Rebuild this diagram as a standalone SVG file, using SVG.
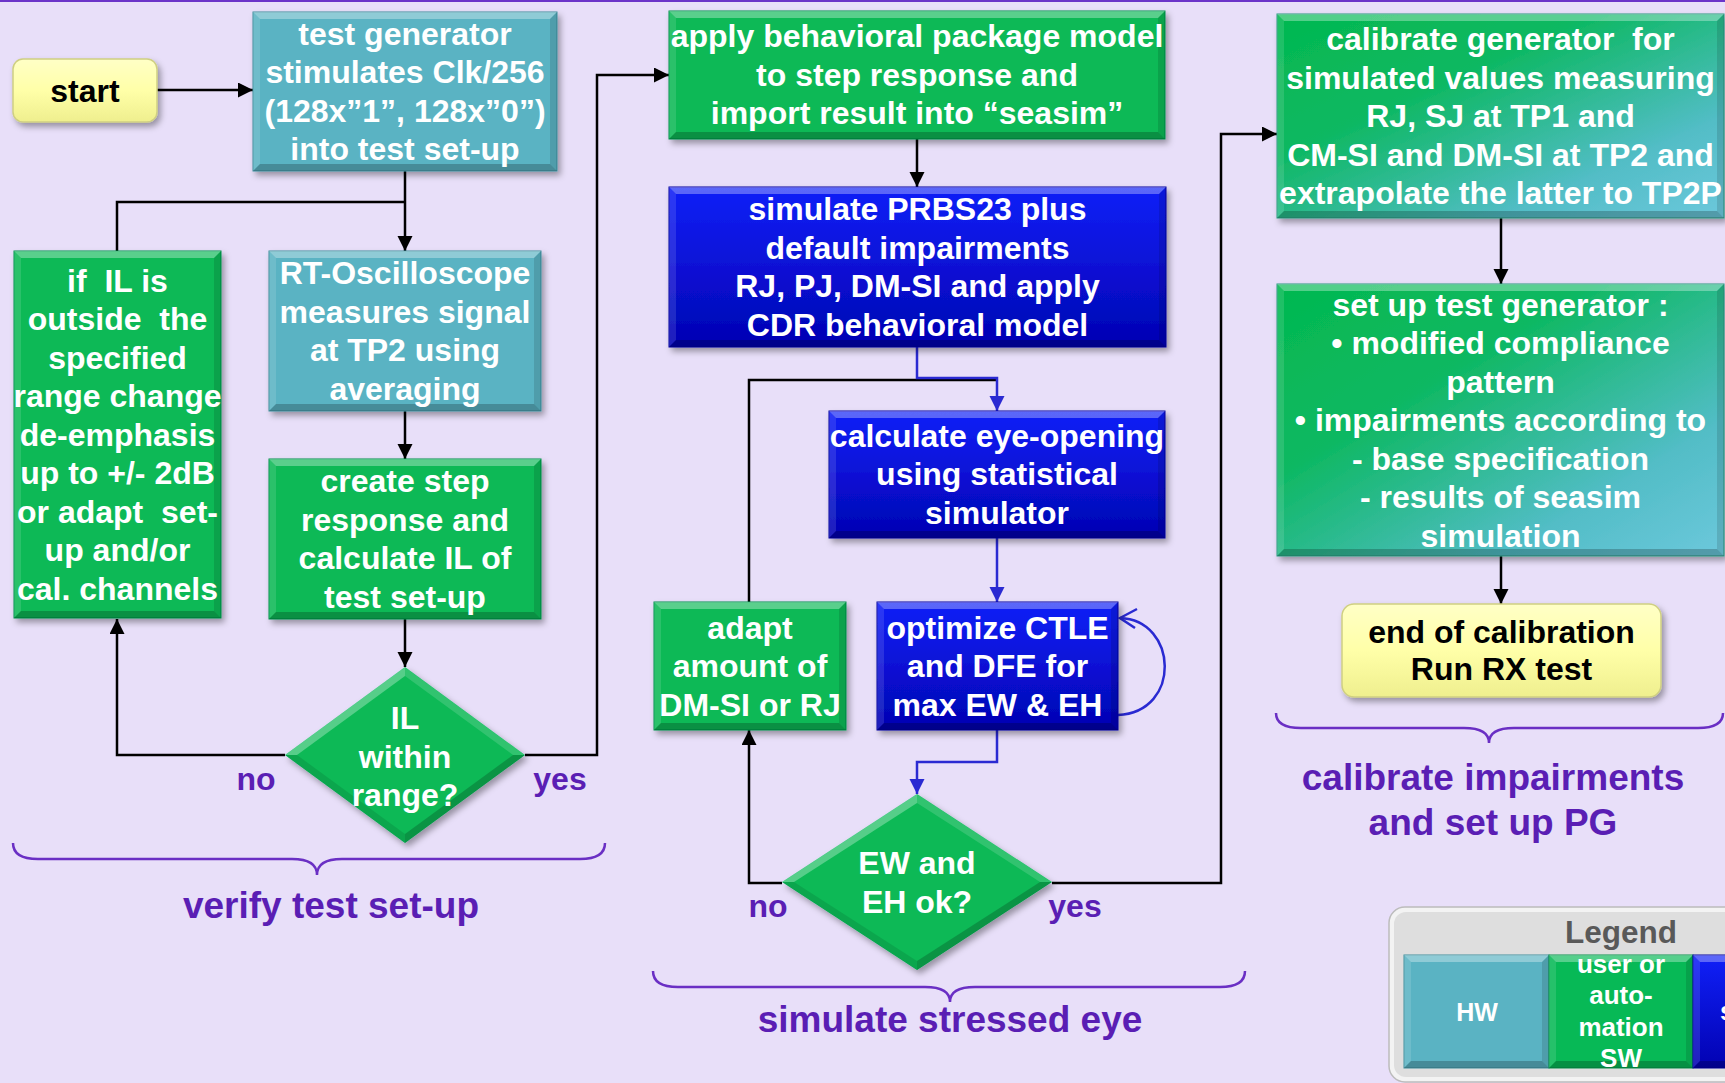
<svg xmlns="http://www.w3.org/2000/svg" width="1725" height="1083" viewBox="0 0 1725 1083">
  <defs>
    <style>
      .t { font-family: "Liberation Sans", Arial, sans-serif; font-weight: bold; font-size: 32px; fill: #ffffff; text-anchor: middle; }
      .dark { fill: #000000; }
      .lbl { fill: #5a1eb4; }
      .sec { font-size: 37px; fill: #5a1eb4; }
      .leg { font-size: 26px; }
      .teal { fill: #5ab3c3; stroke: #3f8e9c; stroke-width: 1; }
      .green { fill: #07b956; stroke: #07924a; stroke-width: 1; }
      .blue { fill: url(#gBlue); stroke: #0000a0; stroke-width: 1; }
      .grad { fill: url(#gCal); stroke: #2a9a80; stroke-width: 1; }
      .yel { fill: url(#gYel); stroke: #cfcf82; stroke-width: 1.5; }
      .bt { fill: #ffffff; fill-opacity: 0.32; }
      .bl { fill: #ffffff; fill-opacity: 0.12; }
      .br { fill: #000000; fill-opacity: 0.12; }
      .bb { fill: #000000; fill-opacity: 0.22; }
      .c { fill: none; stroke: #000000; stroke-width: 2.5; }
      .cb { fill: none; stroke: #2a2ad2; stroke-width: 2.5; }
      .brace { fill: none; stroke: #6a2fc4; stroke-width: 2.5; }
    </style>
    <linearGradient id="gBlue" x1="0" y1="0" x2="0" y2="1">
      <stop offset="0" stop-color="#1020f8"/>
      <stop offset="1" stop-color="#0202b2"/>
    </linearGradient>
    <linearGradient id="gCal" x1="0" y1="0" x2="1" y2="1">
      <stop offset="0" stop-color="#03b84f"/>
      <stop offset="0.35" stop-color="#0db862"/>
      <stop offset="0.75" stop-color="#52bdc6"/>
      <stop offset="1" stop-color="#6cc8dc"/>
    </linearGradient>
    <linearGradient id="gYel" x1="0" y1="0" x2="0" y2="1">
      <stop offset="0" stop-color="#ffffc6"/>
      <stop offset="0.5" stop-color="#ffffa8"/>
      <stop offset="1" stop-color="#efef8e"/>
    </linearGradient>
    <filter id="sh" x="-10%" y="-10%" width="130%" height="140%">
      <feDropShadow dx="3" dy="4" stdDeviation="3" flood-color="#000000" flood-opacity="0.35"/>
    </filter>
    <marker id="ah" markerUnits="userSpaceOnUse" markerWidth="16" markerHeight="16" refX="15" refY="7.5" orient="auto">
      <path d="M0,0 L15,7.5 L0,15 z" fill="#000000"/>
    </marker>
    <marker id="ahb" markerUnits="userSpaceOnUse" markerWidth="16" markerHeight="16" refX="15" refY="7.5" orient="auto">
      <path d="M0,0 L15,7.5 L0,15 z" fill="#2a2ad2"/>
    </marker>
  </defs>

  <!-- background -->
  <rect x="0" y="0" width="1725" height="1083" fill="#e8dff9"/>
  <rect x="0" y="0" width="1725" height="2" fill="#6b34c9"/>

  <!-- connectors -->
  <g id="connectors">
    <path class="c" d="M157,90 H253" marker-end="url(#ah)"/>
    <path class="c" d="M405,171 V251" marker-end="url(#ah)"/>
    <path class="c" d="M405,202 H117 V251"/>
    <path class="c" d="M405,411 V459" marker-end="url(#ah)"/>
    <path class="c" d="M405,619 V667" marker-end="url(#ah)"/>
    <path class="c" d="M285,755 H117 V619" marker-end="url(#ah)"/>
    <path class="c" d="M525,755 H597 V75 H669" marker-end="url(#ah)"/>
    <path class="c" d="M917,139 V187" marker-end="url(#ah)"/>
    <path class="c" d="M749,602 V380 H996"/>
    <path class="cb" d="M917,347 V378 H997 V411" marker-end="url(#ahb)"/>
    <path class="cb" d="M997,538 V602" marker-end="url(#ahb)"/>
    <path class="cb" d="M1118,715 C1182,712 1178,620 1120,618"/>
    <path class="cb" d="M1137,609 L1120,618 L1135,628"/>
    <path class="cb" d="M997,730 V762 H917 V794" marker-end="url(#ahb)"/>
    <path class="c" d="M782,883 H749 V730" marker-end="url(#ah)"/>
    <path class="c" d="M1052,883 H1221 V134 H1277" marker-end="url(#ah)"/>
    <path class="c" d="M1501,218 V284" marker-end="url(#ah)"/>
    <path class="c" d="M1501,556 V604" marker-end="url(#ah)"/>
  </g>

  <!-- start -->
  <g id="n-start">
    <rect class="yel" x="13" y="59" width="144" height="63" rx="10" filter="url(#sh)"/>
    <text class="t dark" x="85" y="102">start</text>
  </g>

  <!-- hardware stimulus -->
  <g id="n-testgen">
    <rect class="teal" x="253" y="12" width="304" height="159" filter="url(#sh)"/>
    <polygon class="bt" points="253,12 557,12 550,19 260,19"/>
    <polygon class="bl" points="253,12 260,19 260,164 253,171"/>
    <polygon class="br" points="557,12 557,171 550,164 550,19"/>
    <polygon class="bb" points="253,171 260,164 550,164 557,171"/>
    <text class="t" x="405" y="44.75">test generator<tspan x="405" dy="38.5">stimulates Clk/256</tspan><tspan x="405" dy="38.5">(128x”1”, 128x”0”)</tspan><tspan x="405" dy="38.5">into test set-up</tspan></text>
  </g>

  <g id="n-adjust">
    <rect class="green" x="14" y="251" width="207" height="367" filter="url(#sh)"/>
    <polygon class="bt" points="14,251 221,251 214,258 21,258"/>
    <polygon class="bl" points="14,251 21,258 21,611 14,618"/>
    <polygon class="br" points="221,251 221,618 214,611 214,258"/>
    <polygon class="bb" points="14,618 21,611 214,611 221,618"/>
    <text class="t" x="117.5" y="291.5" xml:space="preserve">if  IL is<tspan x="117.5" dy="38.5">outside  the</tspan><tspan x="117.5" dy="38.5">specified</tspan><tspan x="117.5" dy="38.5">range change</tspan><tspan x="117.5" dy="38.5">de-emphasis</tspan><tspan x="117.5" dy="38.5">up to +/- 2dB</tspan><tspan x="117.5" dy="38.5">or adapt  set-</tspan><tspan x="117.5" dy="38.5">up and/or</tspan><tspan x="117.5" dy="38.5">cal. channels</tspan></text>
  </g>

  <g id="n-scope">
    <rect class="teal" x="269" y="251" width="272" height="160" filter="url(#sh)"/>
    <polygon class="bt" points="269,251 541,251 534,258 276,258"/>
    <polygon class="bl" points="269,251 276,258 276,404 269,411"/>
    <polygon class="br" points="541,251 541,411 534,404 534,258"/>
    <polygon class="bb" points="269,411 276,404 534,404 541,411"/>
    <text class="t" x="405" y="284">RT-Oscilloscope<tspan x="405" dy="38.5">measures signal</tspan><tspan x="405" dy="38.5">at TP2 using</tspan><tspan x="405" dy="38.5">averaging</tspan></text>
  </g>

  <g id="n-step">
    <rect class="green" x="269" y="459" width="272" height="160" filter="url(#sh)"/>
    <polygon class="bt" points="269,459 541,459 534,466 276,466"/>
    <polygon class="bl" points="269,459 276,466 276,612 269,619"/>
    <polygon class="br" points="541,459 541,619 534,612 534,466"/>
    <polygon class="bb" points="269,619 276,612 534,612 541,619"/>
    <text class="t" x="405" y="492">create step<tspan x="405" dy="38.5">response and</tspan><tspan x="405" dy="38.5">calculate IL of</tspan><tspan x="405" dy="38.5">test set-up</tspan></text>
  </g>

  <g id="n-il-check">
    <polygon points="405,667 525,755 405,843 285,755" fill="#07b956" filter="url(#sh)"/>
    <polygon points="285,755 405,667 405,676 297,755" fill="#ffffff" fill-opacity="0.3"/>
    <polygon points="405,667 525,755 513,755 405,676" fill="#ffffff" fill-opacity="0.15"/>
    <polygon points="525,755 405,843 405,834 513,755" fill="#000000" fill-opacity="0.2"/>
    <polygon points="285,755 297,755 405,834 405,843" fill="#000000" fill-opacity="0.1"/>
    <text class="t" x="405" y="729">IL<tspan x="405" dy="38.5">within</tspan><tspan x="405" dy="38.5">range?</tspan></text>
  </g>

  <!-- simulation column -->
  <g id="n-package">
    <rect class="green" x="669" y="11" width="496" height="128" filter="url(#sh)"/>
    <polygon class="bt" points="669,11 1165,11 1158,18 676,18"/>
    <polygon class="bl" points="669,11 676,18 676,132 669,139"/>
    <polygon class="br" points="1165,11 1165,139 1158,132 1158,18"/>
    <polygon class="bb" points="669,139 676,132 1158,132 1165,139"/>
    <text class="t" x="917" y="47">apply behavioral package model<tspan x="917" dy="38.5">to step response and</tspan><tspan x="917" dy="38.5">import result into “seasim”</tspan></text>
  </g>

  <g id="n-prbs">
    <rect class="blue" x="669" y="187" width="497" height="160" filter="url(#sh)"/>
    <polygon class="bt" points="669,187 1166,187 1159,194 676,194"/>
    <polygon class="bl" points="669,187 676,194 676,340 669,347"/>
    <polygon class="br" points="1166,187 1166,347 1159,340 1159,194"/>
    <polygon class="bb" points="669,347 676,340 1159,340 1166,347"/>
    <text class="t" x="917.5" y="220">simulate PRBS23 plus<tspan x="917.5" dy="38.5">default impairments</tspan><tspan x="917.5" dy="38.5">RJ, PJ, DM-SI and apply</tspan><tspan x="917.5" dy="38.5">CDR behavioral model</tspan></text>
  </g>

  <g id="n-eye">
    <rect class="blue" x="829" y="411" width="336" height="127" filter="url(#sh)"/>
    <polygon class="bt" points="829,411 1165,411 1158,418 836,418"/>
    <polygon class="bl" points="829,411 836,418 836,531 829,538"/>
    <polygon class="br" points="1165,411 1165,538 1158,531 1158,418"/>
    <polygon class="bb" points="829,538 836,531 1158,531 1165,538"/>
    <text class="t" x="997" y="446.5">calculate eye-opening<tspan x="997" dy="38.5">using statistical</tspan><tspan x="997" dy="38.5">simulator</tspan></text>
  </g>

  <g id="n-ctle">
    <rect class="blue" x="877" y="602" width="241" height="128" filter="url(#sh)"/>
    <polygon class="bt" points="877,602 1118,602 1111,609 884,609"/>
    <polygon class="bl" points="877,602 884,609 884,723 877,730"/>
    <polygon class="br" points="1118,602 1118,730 1111,723 1111,609"/>
    <polygon class="bb" points="877,730 884,723 1111,723 1118,730"/>
    <text class="t" x="997.5" y="638.5">optimize CTLE<tspan x="997.5" dy="38.5">and DFE for</tspan><tspan x="997.5" dy="38.5">max EW &amp; EH</tspan></text>
  </g>

  <g id="n-adapt">
    <rect class="green" x="654" y="602" width="192" height="128" filter="url(#sh)"/>
    <polygon class="bt" points="654,602 846,602 839,609 661,609"/>
    <polygon class="bl" points="654,602 661,609 661,723 654,730"/>
    <polygon class="br" points="846,602 846,730 839,723 839,609"/>
    <polygon class="bb" points="654,730 661,723 839,723 846,730"/>
    <text class="t" x="750" y="638.5">adapt<tspan x="750" dy="38.5">amount of</tspan><tspan x="750" dy="38.5">DM-SI or RJ</tspan></text>
  </g>

  <g id="n-eye-check">
    <polygon points="917,794 1052,882 917,970 782,882" fill="#07b956" filter="url(#sh)"/>
    <polygon points="782,882 917,794 917,803 794,882" fill="#ffffff" fill-opacity="0.3"/>
    <polygon points="917,794 1052,882 1040,882 917,803" fill="#ffffff" fill-opacity="0.15"/>
    <polygon points="1052,882 917,970 917,961 1040,882" fill="#000000" fill-opacity="0.2"/>
    <polygon points="782,882 794,882 917,961 917,970" fill="#000000" fill-opacity="0.1"/>
    <text class="t" x="917" y="874">EW and<tspan x="917" dy="38.5">EH ok?</tspan></text>
  </g>

  <!-- calibration column -->
  <g id="n-calibrate">
    <rect class="grad" x="1277" y="14" width="447" height="204" filter="url(#sh)"/>
    <polygon class="bt" points="1277,14 1724,14 1717,21 1284,21"/>
    <polygon class="bl" points="1277,14 1284,21 1284,211 1277,218"/>
    <polygon class="br" points="1724,14 1724,218 1717,211 1717,21"/>
    <polygon class="bb" points="1277,218 1284,211 1717,211 1724,218"/>
    <text class="t" x="1500.5" y="50" xml:space="preserve">calibrate generator  for<tspan x="1500.5" dy="38.5">simulated values measuring</tspan><tspan x="1500.5" dy="38.5">RJ, SJ at TP1 and</tspan><tspan x="1500.5" dy="38.5">CM-SI and DM-SI at TP2 and</tspan><tspan x="1500.5" dy="38.5">extrapolate the latter to TP2P</tspan></text>
  </g>

  <g id="n-setup">
    <rect class="grad" x="1277" y="284" width="447" height="272" filter="url(#sh)"/>
    <polygon class="bt" points="1277,284 1724,284 1717,291 1284,291"/>
    <polygon class="bl" points="1277,284 1284,291 1284,549 1277,556"/>
    <polygon class="br" points="1724,284 1724,556 1717,549 1717,291"/>
    <polygon class="bb" points="1277,556 1284,549 1717,549 1724,556"/>
    <text class="t" x="1500.5" y="315.5">set up test generator :<tspan x="1500.5" dy="38.5">• modified compliance</tspan><tspan x="1500.5" dy="38.5">pattern</tspan><tspan x="1500.5" dy="38.5">• impairments according to</tspan><tspan x="1500.5" dy="38.5">- base specification</tspan><tspan x="1500.5" dy="38.5">- results of seasim</tspan><tspan x="1500.5" dy="38.5">simulation</tspan></text>
  </g>

  <g id="n-end">
    <rect class="yel" x="1342" y="604" width="319" height="93" rx="12" filter="url(#sh)"/>
    <text class="t dark" x="1501.5" y="643">end of calibration<tspan x="1501.5" dy="37">Run RX test</tspan></text>
  </g>

  <!-- branch labels -->
  <g id="labels">
    <text class="t lbl" x="256" y="790">no</text>
    <text class="t lbl" x="560" y="790">yes</text>
    <text class="t lbl" x="768" y="917">no</text>
    <text class="t lbl" x="1075" y="917">yes</text>
  </g>

  <!-- phase braces and titles -->
  <g id="phases">
    <path class="brace" d="M13,843 Q13,859 38,859 L292,859 Q317,859 317,875 Q317,859 342,859 L580,859 Q605,859 605,843"/>
    <text class="t sec" x="331" y="918">verify test set-up</text>
    <path class="brace" d="M653,971 Q653,987 678,987 L925,987 Q950,987 950,1002 Q950,987 975,987 L1220,987 Q1245,987 1245,971"/>
    <text class="t sec" x="950" y="1032">simulate stressed eye</text>
    <path class="brace" d="M1276,713 Q1276,728 1301,728 L1464,728 Q1489,728 1489,743 Q1489,728 1514,728 L1698,728 Q1723,728 1723,713"/>
    <text class="t sec" x="1493" y="790">calibrate impairments<tspan x="1493" dy="45">and set up PG</tspan></text>
  </g>

  <!-- legend -->
  <g id="legend">
    <rect x="1389" y="907" width="400" height="175" rx="16" fill="#f3f3f3" stroke="#bcbcbc" stroke-width="1.5"/>
    <rect x="1394" y="912" width="390" height="165" rx="12" fill="#dedede"/>
    <text class="t" x="1621" y="943" style="font-size:31.5px; fill:#595959">Legend</text>
    <g id="legend-hw">
      <rect class="teal" x="1404" y="955" width="145" height="113"/>
      <polygon class="bt" points="1404,955 1549,955 1542,962 1411,962"/>
      <polygon class="bl" points="1404,955 1411,962 1411,1061 1404,1068"/>
      <polygon class="br" points="1549,955 1549,1068 1542,1061 1542,962"/>
      <polygon class="bb" points="1404,1068 1411,1061 1542,1061 1549,1068"/>
      <text class="t" x="1477" y="1021" style="font-size:25px">HW</text>
    </g>
    <g id="legend-user">
      <rect class="green" x="1549" y="955" width="144" height="113"/>
      <polygon class="bt" points="1549,955 1693,955 1686,962 1556,962"/>
      <polygon class="bl" points="1549,955 1556,962 1556,1061 1549,1068"/>
      <polygon class="br" points="1693,955 1693,1068 1686,1061 1686,962"/>
      <polygon class="bb" points="1549,1068 1556,1061 1686,1061 1693,1068"/>
      <text class="t leg" x="1621" y="973">user or<tspan x="1621" dy="31.3">auto-</tspan><tspan x="1621" dy="31.3">mation</tspan><tspan x="1621" dy="31.3">SW</tspan></text>
    </g>
    <g id="legend-sim">
      <rect class="blue" x="1693" y="955" width="60" height="113"/>
      <polygon class="bt" points="1693,955 1753,955 1746,962 1700,962"/>
      <polygon class="bl" points="1693,955 1700,962 1700,1061 1693,1068"/>
      <polygon class="bb" points="1693,1068 1700,1061 1746,1061 1753,1068"/>
      <text class="t leg" x="1720" y="1020" style="text-anchor:start">s</text>
    </g>
  </g>
</svg>
